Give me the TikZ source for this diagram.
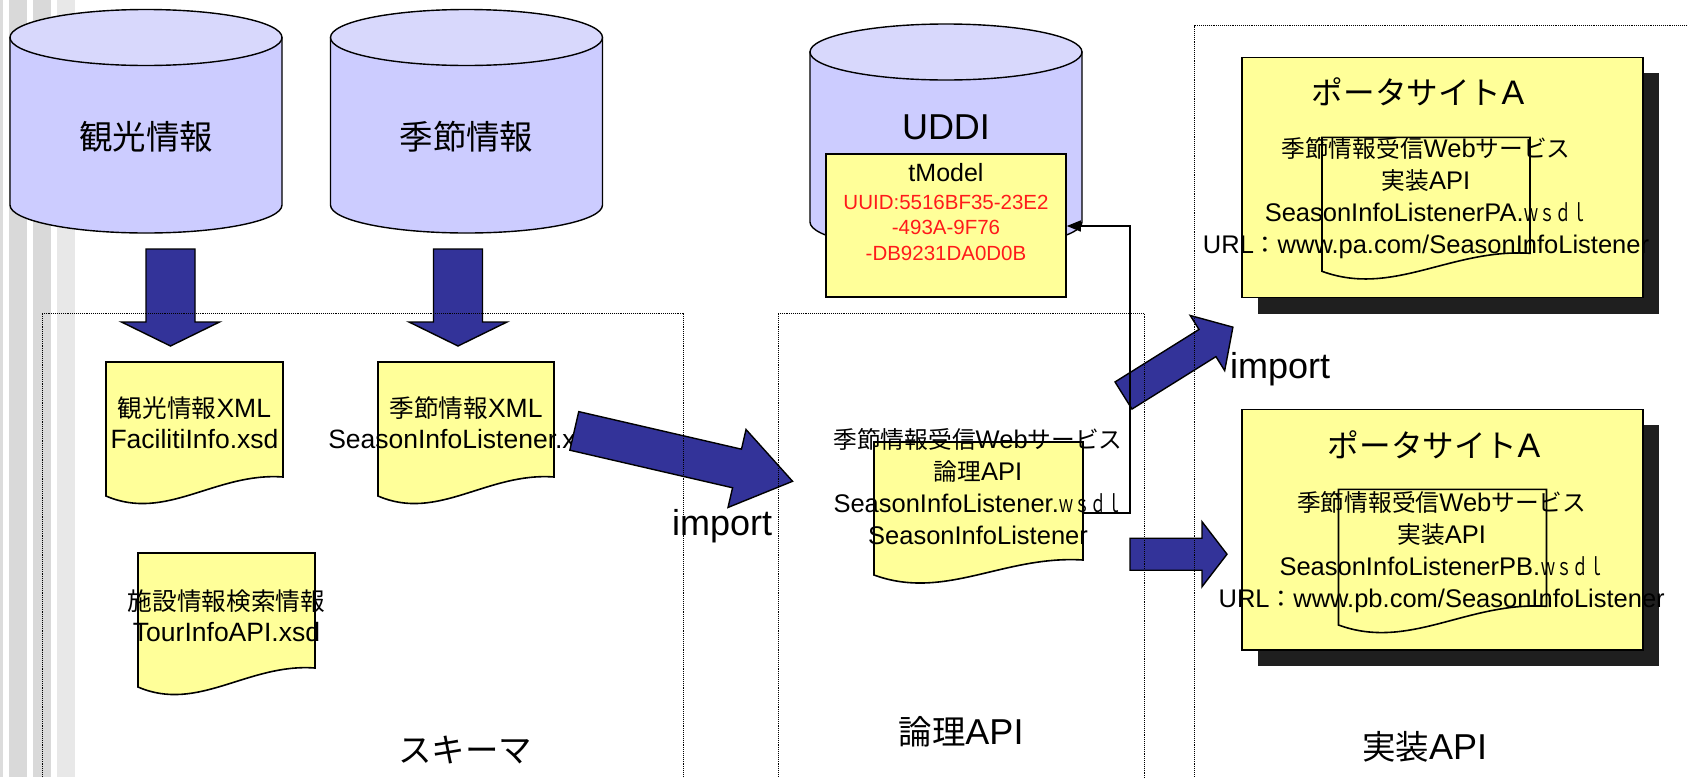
\documentclass[tikz,border=0pt]{standalone}
\usepackage{fontspec}
\usepackage{graphicx}
\setmainfont{Liberation Sans}
\newfontfamily\jp[Scale=0.93]{Noto Sans CJK JP}
\usetikzlibrary{arrows.meta}
\definecolor{cylbody}{HTML}{CCCCFF}
\definecolor{cyltop}{HTML}{D8D8FC}
\definecolor{docyel}{HTML}{FFFF99}
\definecolor{barrowc}{HTML}{333399}
\definecolor{shadowc}{HTML}{1F1F1F}
\definecolor{uuidred}{HTML}{FF1A1A}
\definecolor{stripeA}{HTML}{DCDCDC}
\definecolor{stripeB}{HTML}{D9D9D9}
\definecolor{stripeC}{HTML}{E8E8E8}
\newcommand\J[1]{{\jp #1}}
\newcommand\Wsdl{\scalebox{0.67}[1]{\J{ｗｓｄｌ}}}
\tikzset{
  lbl/.style={inner sep=0pt, font=\fontsize{36}{40}\selectfont},
  titlet/.style={inner sep=0pt, font=\fontsize{34}{40}\selectfont},
  bodyt/.style={inner sep=0pt, align=center, font=\fontsize{25.5}{32}\selectfont},
  schemat/.style={inner sep=0pt, align=center, font=\fontsize{26.5}{31}\selectfont},
  tmt/.style={inner sep=0pt, font=\fontsize{25}{30}\selectfont},
  uuidt/.style={inner sep=0pt, align=center, text=uuidred, font=\fontsize{20.5}{25.8}\selectfont},
  docst/.style={draw=black, line width=1.6pt, fill=docyel},
  cylst/.style={draw=black, line width=1.4pt},
  framest/.style={draw=black, line width=0.9pt, densely dotted},
  blockarrow/.style={draw=black, line width=1.4pt, fill=barrowc, line join=miter},
  conn/.style={draw=black, line width=1.3pt, -{Triangle[length=14pt,width=11pt]}},
  boxst/.style={draw=black, line width=1.6pt, fill=docyel, inner sep=0pt},
  slot/.style={inner sep=0pt},
}
% cylinder: centre x, top ellipse centre y, bottom ellipse centre y
\newcommand\cylshape[3]{%
  \path[cylst, fill=cylbody] ({#1-136},{#2}) -- ({#1-136},{#3})
     arc[start angle=180, end angle=360, x radius=136pt, y radius=28pt]
     -- ({#1+136},{#2}) -- cycle;
  \path[cylst, fill=cyltop] (#1,#2) ellipse[x radius=136pt, y radius=28pt];
}
% block arrow: tail x, tail y, angle, shaft length, shaft width, head length, head width
\newcommand\blockarr[7]{%
  \begin{scope}[shift={(#1,#2)}, rotate=#3]
    \path[blockarrow] (0,{-#5/2}) -- (#4,{-#5/2}) -- (#4,{-#7/2}) -- ({#4+#6},0)
      -- (#4,{#7/2}) -- (#4,{#5/2}) -- (0,{#5/2}) -- cycle;
  \end{scope}}
% document shape: left x, top y, width, right height, left height
\newcommand\docshape[5]{%
  \begin{scope}[shift={(#1,#2)}]
    \path[docst] (0,0) -- (#3,0) -- (#3,#4)
      .. controls ({0.62*#3},{#4-5}) and ({0.34*#3},{#5+26}) .. (0,#5) -- cycle;
  \end{scope}}
\begin{document}
\begin{tikzpicture}[x=1pt, y=-1pt]
\useasboundingbox (0,0) rectangle (1688,777);
\clip (0,0) rectangle (1688,777);
\fill[white] (0,0) rectangle (1688,777);
% left stripes
\fill[stripeA] (0,0) rectangle (2.7,777);
\fill[stripeB] (9.3,0) rectangle (26.7,777);
\fill[stripeB] (33.3,0) rectangle (50.7,777);
\fill[stripeC] (57.3,0) rectangle (75,777);

% data cylinders
\cylshape{146}{37.5}{205}
\cylshape{466.5}{37.5}{205}
\node[lbl] (cyl1lbl) at (146,137) {\J{観光情報}};
\node[lbl] (cyl2lbl) at (466.5,137) {\J{季節情報}};

% down arrows
\blockarr{170.5}{249}{-90}{73}{49}{24}{98}
\blockarr{458}{249}{-90}{73}{49}{24}{98}

% schema documents
\docshape{106}{362}{177}{115}{134}
\docshape{378}{362}{176}{115}{134}
\docshape{138}{553}{177}{115}{134}
\node[schemat] (doc1t) at (194.5,422.5) {\J{観光情報}XML\\FacilitiInfo.xsd};
\node[schemat] (doc2t) at (466,422.5) {\J{季節情報}XML\\SeasonInfoListener.xsd};
\node[schemat] (doc3t) at (226.5,616) {\J{施設情報検索情報}\\TourInfoAPI.xsd};

% UDDI
\cylshape{946}{52}{222}
\node[lbl] (uddilbl) at (946,127) {UDDI};
\node[boxst, minimum width=240, minimum height=143] (tmodel) at (946,225.5) {};
\node[tmt] (tmodellbl) at (946,173) {tModel};
\node[uuidt] (uuidlbl) at (946,227.8) {UUID:5516BF35-23E2\\-493A-9F76\\-DB9231DA0D0B};

% logical API document
\docshape{874}{442}{209}{118}{133}
\node[bodyt] (ldoct) at (978,486.5) {\J{季節情報受信}Web\J{サービス}\\\J{論理}API\\SeasonInfoListener.\Wsdl\\SeasonInfoListener};
\coordinate (ldocE) at (1083,513);

% import arrow schema -> logical
\blockarr{574.3}{430.9}{-13}{167}{39.6}{57}{80}

% portal A
\node[slot, minimum width=401.3, minimum height=240] (portalA) at (1442.35,177.3) {};
\fill[shadowc] ([shift={(16,16)}]portalA.north west) rectangle ([shift={(16,16)}]portalA.south east);
\node[boxst, minimum width=401.3, minimum height=240] (portalAbox) at (portalA) {};
\node[titlet] (pAtitle) at (1418,91.7) {\J{ポータサイト}A};
\docshape{1322}{137.3}{208}{116}{134}
\node[bodyt] (pAt) at (1426,198.3) {\J{季節情報受信}Web\J{サービス}\\\J{実装}API\\SeasonInfoListenerPA.\Wsdl\\URL\J{：}www.pa.com/SeasonInfoListener};

% portal B
\node[slot, minimum width=401.3, minimum height=240.7] (portalB) at (1442.35,529.65) {};
\fill[shadowc] ([shift={(16,16)}]portalB.north west) rectangle ([shift={(16,16)}]portalB.south east);
\node[boxst, minimum width=401.3, minimum height=240.7] (portalBbox) at (portalB) {};
\node[titlet] (pBtitle) at (1434,445) {\J{ポータサイト}A};
\docshape{1338.5}{489.3}{208}{117}{135.7}
\node[bodyt] (pBt) at (1441.7,551.7) {\J{季節情報受信}Web\J{サービス}\\\J{実装}API\\SeasonInfoListenerPB.\Wsdl\\URL\J{：}www.pb.com/SeasonInfoListener};

% import arrows logical -> implementations
\blockarr{1123.5}{395.5}{32}{99}{32}{30}{65}
\blockarr{1130}{554.2}{0}{72}{32}{25}{65}

% labels
\node[lbl, anchor=base west] (imp1) at (672,535) {import};
\node[lbl, anchor=base west] (imp2) at (1230,378) {import};
\node[lbl] (schemalbl) at (465,750) {\J{スキーマ}};
\node[lbl] (logiclbl) at (961,732) {\J{論理}API};
\node[lbl] (impllbl) at (1424.6,747) {\J{実装}API};

% registration connector
\coordinate (bend) at (1130,226);
\draw[conn] (ldocE) -| (bend) -- (bend -| tmodel.east);

% dotted frames
\draw[framest] (42,790) -- (42,313) -- (683,313) -- (683,790);
\draw[framest] (778,790) -- (778,313) -- (1144,313) -- (1144,790);
\draw[framest] (1194,790) -- (1194,25.7) -- (1700,25.7);
\end{tikzpicture}
\end{document}
